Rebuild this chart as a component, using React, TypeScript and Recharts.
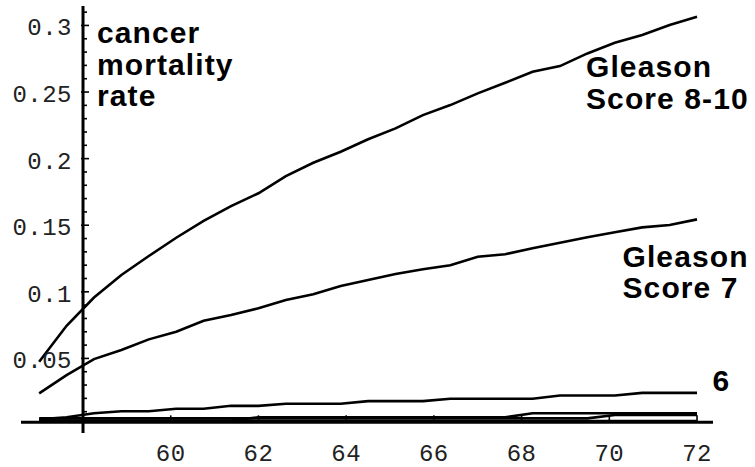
import { LineChart, Line, XAxis, YAxis, ReferenceLine } from 'recharts'

// age (years) at which each estimate was read
const AGES = [57, 57.625, 58.25, 58.875, 59.5, 60.125, 60.75, 61.375, 62, 62.625, 63.25, 63.875, 64.5, 65.125, 65.75, 66.375, 67, 67.625, 68.25, 68.875, 69.5, 70.125, 70.75, 71.375, 72]

const GLEASON_8_10 = [0.0475, 0.0745, 0.0957, 0.1126, 0.1269, 0.1406, 0.1532, 0.1644, 0.174, 0.1869, 0.1969, 0.2052, 0.2145, 0.2227, 0.2327, 0.2402, 0.249, 0.257, 0.2652, 0.2695, 0.279, 0.287, 0.2928, 0.3003, 0.3065]
const GLEASON_7 = [0.0238, 0.0375, 0.0495, 0.0563, 0.0643, 0.07, 0.0783, 0.0826, 0.0876, 0.0938, 0.0981, 0.1044, 0.1089, 0.1134, 0.1169, 0.1199, 0.1264, 0.1282, 0.1327, 0.1369, 0.1409, 0.1447, 0.1484, 0.1502, 0.1544]
const GLEASON_6 = [0.0043, 0.0058, 0.0088, 0.0103, 0.0103, 0.0122, 0.0122, 0.0144, 0.0144, 0.016, 0.016, 0.016, 0.0179, 0.0179, 0.0179, 0.0197, 0.0197, 0.0197, 0.0197, 0.0222, 0.0222, 0.0222, 0.0241, 0.0241, 0.0241]
const GLEASON_5 = [0.0034, 0.0034, 0.0034, 0.0034, 0.0034, 0.0034, 0.0034, 0.0034, 0.0058, 0.0058, 0.0058, 0.0058, 0.0058, 0.0058, 0.0058, 0.0058, 0.0058, 0.0058, 0.0088, 0.0088, 0.0088, 0.0088, 0.0088, 0.0088, 0.0088]
const GLEASON_4 = [0.005, 0.005, 0.005, 0.005, 0.005, 0.005, 0.005, 0.005, 0.005, 0.005, 0.005, 0.005, 0.005, 0.005, 0.005, 0.005, 0.005, 0.005, 0.005, 0.005, 0.005, 0.0075, 0.0075, 0.0075, 0.0075]
const GLEASON_2_3 = [0.003, 0.003, 0.003, 0.003, 0.003, 0.003, 0.003, 0.003, 0.003, 0.003, 0.003, 0.003, 0.003, 0.003, 0.003, 0.003, 0.003, 0.003, 0.003, 0.003, 0.003, 0.003, 0.003, 0.003, 0.003]

const X_TICKS = [60, 62, 64, 66, 68, 70, 72]
const Y_TICKS = [0.01, 0.02, 0.03, 0.04, 0.05, 0.06, 0.07, 0.08, 0.09, 0.1, 0.11, 0.12, 0.13, 0.14, 0.15, 0.16, 0.17, 0.18, 0.19, 0.2, 0.21, 0.22, 0.23, 0.24, 0.25, 0.26, 0.27, 0.28, 0.29, 0.3, 0.31]
const Y_LABELED = [0.05, 0.1, 0.15, 0.2, 0.25, 0.3]

const X_MIN = 56.586
const X_MAX = 72.364
const Y_MIN = -0.006
const Y_MAX = 0.3146
const Y_AXIS_AT = 58
const X_AXIS_AT = 0.002

const W = 755
const H = 467
const M = { top: 6, right: 42, left: 21, bottom: 0 }
const X_AXIS_H = 34
const PLOT_W = W - M.left - M.right
const PLOT_H = H - M.top - M.bottom - X_AXIS_H

// pixel spots of the crossing axes
const axisXpx = M.left + ((Y_AXIS_AT - X_MIN) / (X_MAX - X_MIN)) * PLOT_W
const axisYpx = M.top + ((Y_MAX - X_AXIS_AT) / (Y_MAX - Y_MIN)) * PLOT_H

const data = AGES.map((age, i) => ({
  age,
  g810: GLEASON_8_10[i],
  g7: GLEASON_7[i],
  g6: GLEASON_6[i],
  g5: GLEASON_5[i],
  g4: GLEASON_4[i],
  g23: GLEASON_2_3[i],
}))

const mono = '"Liberation Mono", "Courier New", monospace'
const bold = '"Liberation Sans", Arial, Helvetica, sans-serif'

const YTick = (props: any) => {
  const v = props?.payload?.value
  const y = props?.y
  const major = Y_LABELED.some((l) => Math.abs(l - v) < 1e-6)
  return (
    <g>
      <line x1={axisXpx - (major ? 2 : 0)} x2={axisXpx + (major ? 6 : 4)} y1={y} y2={y} stroke="#000" strokeWidth={1.6} />
      {major && (
        <text x={axisXpx - 11} y={y + 10} textAnchor="end" fontFamily={mono} fontSize={24} fill="#222" letterSpacing={0.5}>
          {String(Number(v.toFixed(2)))}
        </text>
      )}
    </g>
  )
}

const XTick = (props: any) => {
  const x = props?.x
  return (
    <g>
      <line x1={x} x2={x} y1={axisYpx} y2={axisYpx - 7} stroke="#000" strokeWidth={1.6} />
      <text x={x} y={461} textAnchor="middle" fontFamily={mono} fontSize={24} fill="#222" letterSpacing={0.5}>
        {props?.payload?.value}
      </text>
    </g>
  )
}

const series = ['g23', 'g4', 'g5', 'g6', 'g7', 'g810']

const labelStyle = { fontFamily: bold, fontSize: 30, fontWeight: 700, letterSpacing: 1.1 }

export default function App() {
  return (
    <div style={{ position: 'absolute', left: 0, top: 0, width: W, height: H, background: '#fff' }}>
      <LineChart width={W} height={H} data={data} margin={M}>
        <XAxis
          dataKey="age"
          type="number"
          domain={[X_MIN, X_MAX]}
          ticks={X_TICKS}
          height={X_AXIS_H}
          axisLine={false}
          tickLine={false}
          tick={<XTick />}
          allowDataOverflow
        />
        <YAxis
          type="number"
          domain={[Y_MIN, Y_MAX]}
          ticks={Y_TICKS}
          mirror
          axisLine={false}
          tickLine={false}
          tick={<YTick />}
          interval={0}
          allowDataOverflow
        />
        <ReferenceLine y={X_AXIS_AT} stroke="#000" strokeWidth={3} />
        <ReferenceLine x={Y_AXIS_AT} stroke="#000" strokeWidth={3} />
        {series.map((k) => (
          <Line key={k} type="linear" dataKey={k} stroke="#000" strokeWidth={2.6} dot={false} isAnimationActive={false} />
        ))}
      </LineChart>
      <svg width={W} height={H} style={{ position: 'absolute', left: 0, top: 0, pointerEvents: 'none' }}>
        <g style={labelStyle as any}>
          <text x={97} y={43}>cancer</text>
          <text x={97} y={74.5}>mortality</text>
          <text x={97} y={106}>rate</text>
          <text x={586} y={77}>Gleason</text>
          <text x={586} y={108.5}>Score 8-10</text>
          <text x={622.5} y={266.5}>Gleason</text>
          <text x={622.5} y={298}>Score 7</text>
          <text x={712.5} y={390.5}>6</text>
        </g>
      </svg>
    </div>
  )
}
